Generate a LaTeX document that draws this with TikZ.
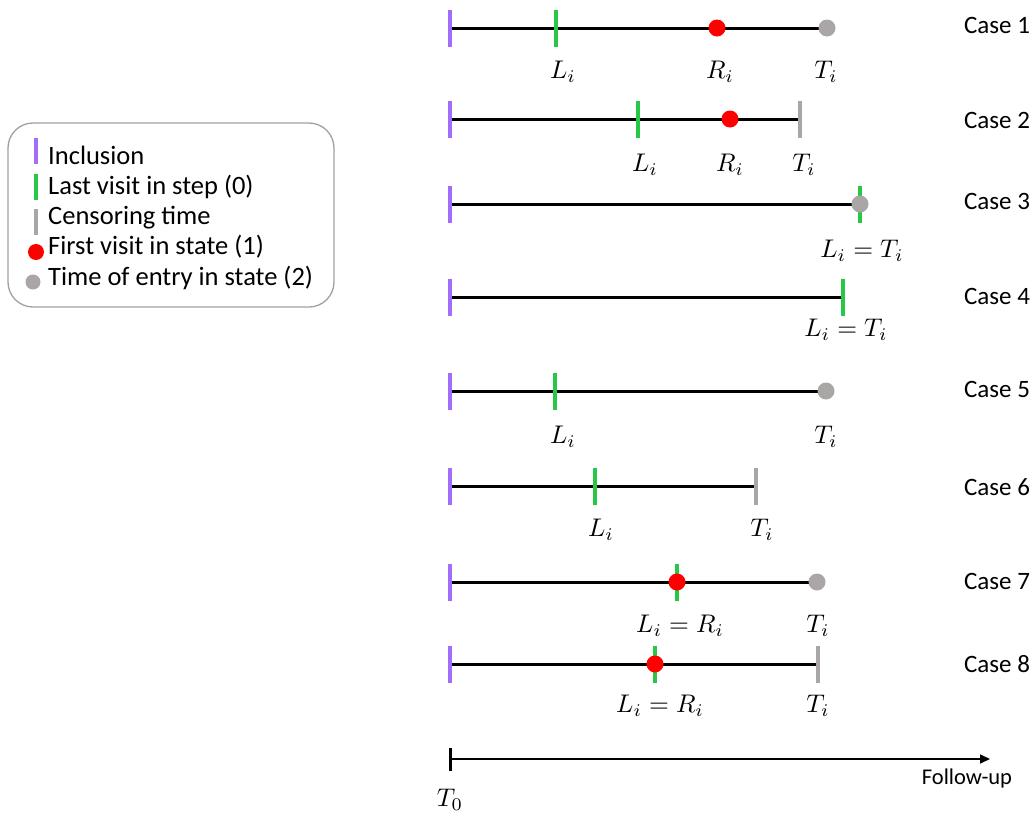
\documentclass[tikz,border=0pt]{standalone}
\usepackage{fontspec}
\setmainfont{Carlito}
\usetikzlibrary{backgrounds,arrows.meta}
\definecolor{incl}{RGB}{160,110,250}
\definecolor{lvg}{RGB}{40,200,70}
\definecolor{cg}{RGB}{170,166,166}
\definecolor{boxg}{RGB}{160,160,160}
\begin{document}
\begin{tikzpicture}[x=1pt,y=-1pt,
  tl/.style={line width=3pt},
  mk/.style={rectangle,inner sep=0pt,draw=none,minimum width=4.5pt,minimum height=37pt},
  inc/.style={mk,fill=incl},
  lv/.style={mk,fill=lvg},
  cens/.style={mk,fill=cg},
  fv/.style={circle,inner sep=0pt,draw=none,fill=red,minimum size=17pt},
  ent/.style={circle,inner sep=0pt,draw=none,fill=cg,minimum size=17pt},
  lab/.style={inner sep=0pt},
  case/.style={font=\fontsize{25}{30}\selectfont,inner sep=0pt},
  legtxt/.style={font=\fontsize{26.5}{31}\selectfont,inner sep=0pt,anchor=west},
  legmk/.style={rectangle,inner sep=0pt,draw=none,minimum width=4.5pt,minimum height=26pt}
]
\useasboundingbox (0,0) rectangle (1034,817);
\newcommand{\ml}[1]{\scalebox{2.55}{$#1$}}
% Case 1
\node[inc] (i1) at (450,28) {};
\node[lv] (l1) at (556,28) {};
\node[fv] (r1) at (717,28) {};
\node[ent] (t1) at (827,28) {};
\node[lab] (L1) at (563,72) {\ml{L_i}};
\node[lab] (R1) at (720,72) {\ml{R_i}};
\node[lab] (T1) at (826,72) {\ml{T_i}};
\node[case] (c1) at (997,25) {Case 1};
% Case 2
\node[inc] (i2) at (450,119) {};
\node[lv] (l2) at (638,119) {};
\node[fv] (r2) at (730,119) {};
\node[cens] (t2) at (800,119) {};
\node[lab] (L2) at (645,165) {\ml{L_i}};
\node[lab] (R2) at (730,165) {\ml{R_i}};
\node[lab] (T2) at (804,165) {\ml{T_i}};
\node[case] (c2) at (997,120) {Case 2};
% Case 3
\node[inc] (i3) at (450,204) {};
\node[lv] (l3) at (860,204) {};
\node[ent] (t3) at (860,204) {};
\node[lab] (L3) at (862,251) {\ml{L_i = T_i}};
\node[case] (c3) at (997,201) {Case 3};
% Case 4
\node[inc] (i4) at (450,297) {};
\node[lv] (l4) at (843,297) {};
\node[lab] (L4) at (846,330) {\ml{L_i = T_i}};
\node[case] (c4) at (997,296) {Case 4};
% Case 5
\node[inc] (i5) at (450,391) {};
\node[lv] (l5) at (555,391) {};
\node[ent] (t5) at (826,391) {};
\node[lab] (L5) at (563,437) {\ml{L_i}};
\node[lab] (T5) at (826,437) {\ml{T_i}};
\node[case] (c5) at (997,389) {Case 5};
% Case 6
\node[inc] (i6) at (450,486) {};
\node[lv] (l6) at (595,486) {};
\node[cens] (t6) at (756,486) {};
\node[lab] (L6) at (601,530) {\ml{L_i}};
\node[lab] (T6) at (762,530) {\ml{T_i}};
\node[case] (c6) at (997,487) {Case 6};
% Case 7
\node[inc] (i7) at (450,582) {};
\node[lv] (l7) at (677,582) {};
\node[fv] (r7) at (677,582) {};
\node[ent] (t7) at (817,582) {};
\node[lab] (L7) at (680,626) {\ml{L_i = R_i}};
\node[lab] (T7) at (818,626) {\ml{T_i}};
\node[case] (c7) at (997,581) {Case 7};
% Case 8
\node[inc] (i8) at (450,664) {};
\node[lv] (l8) at (655,664) {};
\node[fv] (r8) at (655,664) {};
\node[cens] (t8) at (818,664) {};
\node[lab] (L8) at (660,706) {\ml{L_i = R_i}};
\node[lab] (T8) at (818,706) {\ml{T_i}};
\node[case] (c8) at (997,664) {Case 8};
\begin{scope}[on background layer]
\draw[tl] (i1.center) -- (t1.center);
\draw[tl] (i2.center) -- (t2.center);
\draw[tl] (i3.center) -- (t3.center);
\draw[tl] (i4.center) -- (l4.center);
\draw[tl] (i5.center) -- (t5.center);
\draw[tl] (i6.center) -- (t6.center);
\draw[tl] (i7.center) -- (t7.center);
\draw[tl] (i8.center) -- (t8.center);
\end{scope}
% Axis
\node[rectangle,inner sep=0pt,fill=black,minimum width=3pt,minimum height=23pt] (t0) at (450,759) {};
\coordinate (axend) at (990,759);
\draw[line width=1.5pt,-{Triangle[length=10pt,width=9pt]}] (t0.center) -- (axend);
\node[inner sep=0pt,font=\fontsize{22.5}{27}\selectfont] (fu) at (967,778) {Follow-up};
\node[lab] (T0) at (450,800) {\ml{T_0}};
% Legend
\node[draw=boxg,line width=1.3pt,rounded corners=25pt,minimum width=326pt,minimum height=184pt,inner sep=0pt] (leg) at (171,215) {};
\node[legmk,fill=incl] (m1) at (36,151) {};
\node[legmk,fill=lvg] (m2) at (36,187) {};
\node[legmk,fill=cg] (m3) at (36,222) {};
\node[circle,inner sep=0pt,fill=red,minimum size=16pt] (m4) at (36,252) {};
\node[circle,inner sep=0pt,fill=cg,minimum size=15pt] (m5) at (33,282) {};
\node[legtxt] (x1) at (48,155) {Inclusion};
\node[legtxt] (x2) at (48,187) {Last visit in step (0)};
\node[legtxt] (x3) at (48,218) {Censoring time};
\node[legtxt] (x4) at (48,247) {First visit in state (1)};
\node[legtxt] (x5) at (48,278) {Time of entry in state (2)};
\end{tikzpicture}
\end{document}
